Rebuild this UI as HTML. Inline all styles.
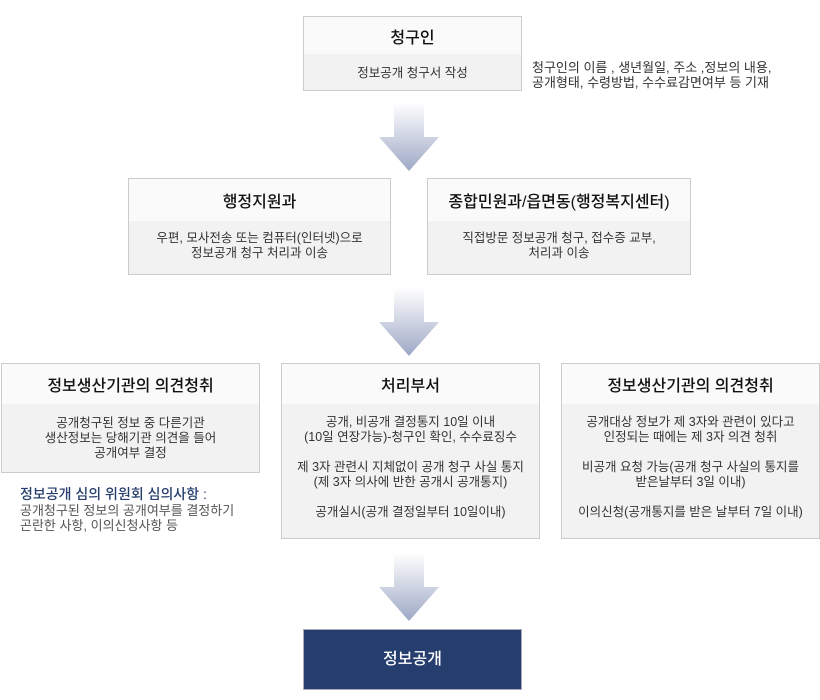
<!DOCTYPE html>
<html><head><meta charset="utf-8"><style>
body{margin:0;width:820px;height:700px;background:#fff;position:relative;font-family:"Liberation Sans","Noto Sans CJK KR","NanumGothic",sans-serif;color:#333;overflow:hidden}
.b{position:absolute;border:1px solid #ccc;background:#f2f2f2;box-sizing:border-box;text-align:center}
.h{background:#fafafa;font-size:16px;color:#111;display:flex;align-items:center;justify-content:center;font-weight:500}
.t{font-size:12.5px;line-height:15px;color:#333}
.ar{position:absolute;left:379px;width:60px;height:68px}
.p{position:absolute;font-size:12.5px;line-height:15px}
</style></head><body>
<div class="b" style="left:303px;top:16px;width:219px;height:75px">
<div class="h" style="height:37px">청구인</div>
<div class="t" style="padding-top:12px">정보공개 청구서 작성</div></div>
<div class="p" style="left:532px;top:60px;color:#333;font-size:13px">청구인의 이름 , 생년월일, 주소 ,정보의 내용,<br>공개형태, 수령방법, 수수료감면여부 등 기재</div>

<svg class="ar" style="top:103px" viewBox="0 0 60 68"><defs><linearGradient id="g" x1="0" y1="0" x2="0" y2="1"><stop offset="0" stop-color="#fff"/><stop offset="1" stop-color="#9ea8c6"/></linearGradient></defs><polygon points="15,0 45,0 45,34 60,34 30,68 0,34 15,34" fill="url(#g)"/></svg>

<div class="b" style="left:128px;top:178px;width:263px;height:97px">
<div class="h" style="height:42px">행정지원과</div>
<div class="t" style="padding-top:10px">우편, 모사전송 또는 컴퓨터(인터넷)으로<br>정보공개 청구 처리과 이송</div></div>
<div class="b" style="left:427px;top:178px;width:264px;height:97px">
<div class="h" style="height:42px">종합민원과/읍면동(행정복지센터)</div>
<div class="t" style="padding-top:10px">직접방문 정보공개 청구, 접수증 교부,<br>처리과 이송</div></div>

<svg class="ar" style="top:288px" viewBox="0 0 60 68"><polygon points="15,0 45,0 45,34 60,34 30,68 0,34 15,34" fill="url(#g)"/></svg>

<div class="b" style="left:1px;top:363px;width:259px;height:110px">
<div class="h" style="height:40px">정보생산기관의 의견청취</div>
<div class="t" style="padding-top:12px">공개청구된 정보 중 다른기관<br>생산정보는 당해기관 의견을 들어<br>공개여부 결정</div></div>
<div class="p" style="left:20px;top:486px;font-size:14px;line-height:17px;color:#263e6e;font-weight:500">정보공개 심의 위원회 심의사항 :</div>
<div class="p" style="left:20px;top:503px;color:#555;font-size:13px">공개청구된 정보의 공개여부를 결정하기<br>곤란한 사항, 이의신청사항 등</div>

<div class="b" style="left:281px;top:363px;width:259px;height:176px">
<div class="h" style="height:40px">처리부서</div>
<div class="t" style="padding-top:11px">공개, 비공개 결정통지 10일 이내<br>(10일 연장가능)-청구인 확인, 수수료징수<br><br>제 3자 관련시 지체없이 공개 청구 사실 통지<br>(제 3자 의사에 반한 공개시 공개통지)<br><br>공개실시(공개 결정일부터 10일이내)</div></div>
<div class="b" style="left:561px;top:363px;width:259px;height:176px">
<div class="h" style="height:40px">정보생산기관의 의견청취</div>
<div class="t" style="padding-top:11px">공개대상 정보가 제 3자와 관련이 있다고<br>인정되는 때에는 제 3자 의견 청취<br><br>비공개 요청 가능(공개 청구 사실의 통지를<br>받은날부터 3일 이내)<br><br>이의신청(공개통지를 받은 날부터 7일 이내)</div></div>

<svg class="ar" style="top:553px" viewBox="0 0 60 68"><polygon points="15,0 45,0 45,34 60,34 30,68 0,34 15,34" fill="url(#g)"/></svg>

<div class="b" style="left:303px;top:629px;width:219px;height:61px;background:#263e6e;border-color:#aab;color:#fff;font-size:16px;line-height:59px;font-weight:500">정보공개</div>
</body></html>
